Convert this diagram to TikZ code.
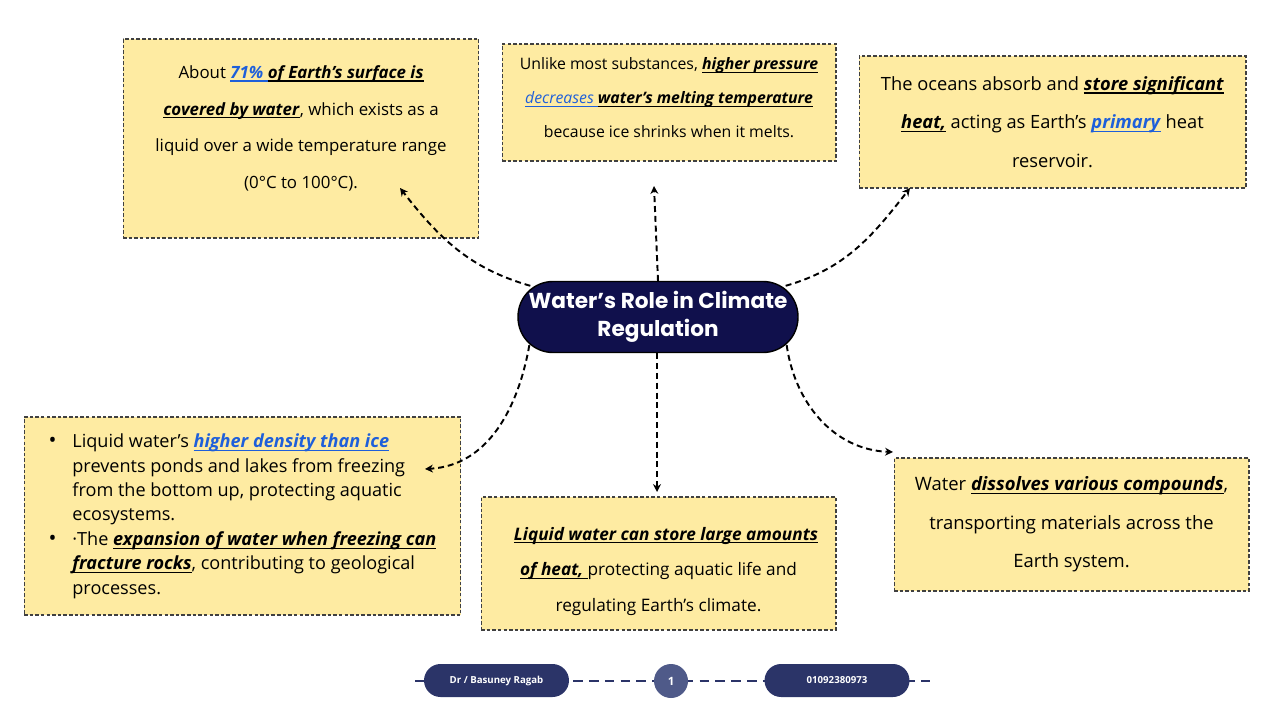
\documentclass[tikz,border=0pt]{standalone}
\usepackage{fontspec}
\setmainfont{Open Sans}
\newfontfamily\titlefont{Poppins}
\usetikzlibrary{arrows.meta, positioning}

\definecolor{noteyellow}{HTML}{FEEBA2}
\definecolor{titlenavy}{HTML}{10104C}
\definecolor{footnavy}{HTML}{2B3468}
\definecolor{footdot}{HTML}{4F5A89}
\definecolor{keyblue}{HTML}{1E5FDA}

% highlighted phrases
\newsavebox{\keybox}
\newcommand{\keyline}[1]{\sbox{\keybox}{#1}\rlap{\rule[-1.9pt]{\wd\keybox}{0.6pt}}\usebox{\keybox}}
\newcommand{\keyblack}[1]{\keyline{\textbf{\textit{#1}}}}
\newcommand{\keyblue}[1]{\textcolor{keyblue}{\keyline{\textbf{\textit{#1}}}}}
\newcommand{\keybluelight}[1]{\textcolor{keyblue}{\keyline{\textit{#1}}}}

\begin{document}
\begin{tikzpicture}[
    x=0.02cm, y=-0.02cm,
    note box/.style={rectangle, fill=noteyellow, draw=black!75, line width=0.6pt,
        dash pattern=on 2pt off 1.2pt, align=center, inner sep=4pt},
    title box/.style={rectangle, rounded corners=0.7cm, fill=titlenavy, draw=black,
        line width=0.8pt, text=white, align=center,
        minimum width=5.6cm, minimum height=1.42cm,
        font=\titlefont\bfseries\fontsize{12.3}{16}\selectfont},
    link/.style={draw=black, line width=1.1pt, dash pattern=on 3.4pt off 2.2pt,
        -{Stealth[length=4.5pt, width=4.5pt]}},
    foot pill/.style={rectangle, rounded corners=0.33cm, fill=footnavy, text=white,
        minimum width=2.9cm, minimum height=0.66cm,
        font=\bfseries\fontsize{5.5}{7}\selectfont},
    foot dot/.style={circle, fill=footdot, text=white, minimum size=0.68cm, inner sep=0pt,
        font=\bfseries\fontsize{6.5}{8}\selectfont}
]
    \useasboundingbox (0,0) rectangle (1280,719);

    % Notes
    \node[note box, minimum width=7.12cm, minimum height=3.98cm,
          font=\fontsize{9.6}{21}\selectfont] (surface) at (301,138.5)
        {About \keyblue{71\% }\keyblack{of Earth’s surface is}\\
         \keyblack{covered by water}, which exists as a\\
         liquid over a wide temperature range\\
         (0°C to 100°C).\\[-8pt]\mbox{}};
    \node[note box, minimum width=6.68cm, minimum height=2.34cm,
          font=\fontsize{9.0}{19.3}\selectfont] (pressure) at (669,102.5)
        {Unlike most substances, \keyblack{higher pressure}\\
         \keybluelight{decreases }\keyblack{water’s melting temperature}\\
         because ice shrinks when it melts.\\[-13.6pt]\mbox{}};
    \node[note box, minimum width=7.74cm, minimum height=2.64cm,
          font=\fontsize{10.4}{22}\selectfont] (oceans) at (1052.5,122)
        {The oceans absorb and \keyblack{store significant}\\
         \keyblack{heat,} acting as Earth’s \keyblue{primary} heat\\
         reservoir.};
    \node[note box, minimum width=8.74cm, minimum height=3.96cm,
          font=\fontsize{10.3}{13.9}\selectfont] (density) at (242.5,516)
        {\begin{tabular}{@{}l@{\hspace{9pt}}l@{}}
         {\large\textbullet} & Liquid water's \keyblue{higher density than ice}\\
                     & prevents ponds and lakes from freezing\\
                     & from the bottom up, protecting aquatic\\
                     & ecosystems.\\
         {\large\textbullet} & ·The \keyblack{expansion of water when freezing can}\\
                     & \keyblack{fracture rocks}, contributing to geological\\
                     & processes.
         \end{tabular}};
    \node[note box, minimum width=7.1cm, minimum height=2.66cm,
          font=\fontsize{9.8}{20.4}\selectfont] (heat) at (658.5,563.5)
        {\mbox{}\\[-4pt]
         \hspace*{0.3cm}\keyblack{Liquid water can store large amounts}\\
         \keyblack{of heat,\ }protecting aquatic life and\\
         regulating Earth’s climate.};
    \node[note box, minimum width=7.1cm, minimum height=2.66cm,
          font=\fontsize{10.5}{22}\selectfont] (solvent) at (1071.5,524.5)
        {Water \keyblack{dissolves various compounds},\\
         transporting materials across the\\
         Earth system.};

    % Central topic
    \node[title box] (topic) at (658,317) {Water’s Role in Climate\\Regulation};

    % Arrow ends
    \coordinate (surface end) at (400,188);
    \coordinate (pressure end) at (654,186);
    \coordinate (oceans end) at (910,188);
    \coordinate (density end) at (425,469);
    \coordinate (heat end) at (657,492);
    \coordinate (solvent end) at (893,452);

    % Links
    \draw[link] ([shift={(13,5)}]topic.north west) to[out=164, in=-52] (surface end);
    \draw[link] (topic.north) -- (pressure end);
    \draw[link] ([shift={(-13,5)}]topic.north east) to[out=16, in=-128] (oceans end);
    \draw[link] ([shift={(12,-8)}]topic.south west) to[out=-100, in=3] (density end);
    \draw[link] ([shift={(-1,0)}]topic.south) -- (heat end);
    \draw[link] ([shift={(-12,-8)}]topic.south east) to[out=-82, in=178] (solvent end);

    % Footer
    \coordinate (foot left) at (415,681);
    \coordinate (foot right) at (930,681);
    \draw[footnavy, line width=0.8pt, dash pattern=on 5.5pt off 3.5pt] (foot left) -- (foot right);
    \node[foot pill] (author) at (496.5,680.5) {Dr / Basuney Ragab};
    \node[foot dot] (page) at (671,681) {1};
    \node[foot pill] (phone) at (837,680.5) {01092380973};
\end{tikzpicture}
\end{document}
